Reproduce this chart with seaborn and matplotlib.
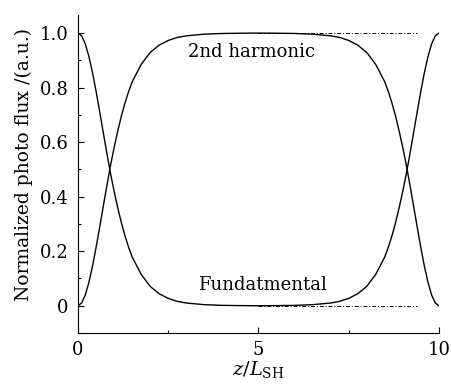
import matplotlib
matplotlib.use("Agg")
import matplotlib.pyplot as plt
import seaborn as sns
import pandas as pd
from matplotlib.ticker import MultipleLocator, FixedLocator

sns.set_style("ticks")
plt.rcParams['font.family'] = ['DejaVu Serif']
plt.rcParams['mathtext.fontset'] = 'dejavuserif'
plt.rcParams['text.color'] = 'black'
plt.rcParams['axes.labelcolor'] = 'black'
plt.rcParams['xtick.color'] = 'black'
plt.rcParams['ytick.color'] = 'black'

# z/L_SH positions
z = [0.0, 0.1, 0.2, 0.3, 0.4, 0.5, 0.6, 0.7, 0.8, 0.9, 1.0, 1.1, 1.2, 1.3, 1.4,
     1.5, 1.75, 2.0, 2.25, 2.5, 2.75, 3.0, 3.5, 4.0, 4.5, 5.0,
     5.5, 6.0, 6.5, 7.0, 7.25, 7.5, 7.75, 8.0, 8.25, 8.5, 8.6, 8.7, 8.8, 8.9,
     9.0, 9.1, 9.2, 9.3, 9.4, 9.5, 9.6, 9.7, 9.8, 9.9, 10.0]
second_harmonic = [0.0, 0.01, 0.039, 0.085, 0.144, 0.213, 0.288, 0.365, 0.441,
                   0.514, 0.58, 0.64, 0.695, 0.743, 0.785, 0.821, 0.885, 0.929,
                   0.956, 0.973, 0.984, 0.99, 0.996, 0.9986, 0.9995, 1.0,
                   0.9995, 0.9986, 0.996, 0.99, 0.984, 0.973, 0.956, 0.929,
                   0.885, 0.821, 0.785, 0.743, 0.695, 0.64, 0.58, 0.514, 0.441,
                   0.365, 0.288, 0.213, 0.144, 0.085, 0.039, 0.01, 0.0]
fundamental = [1.0, 0.99, 0.961, 0.915, 0.856, 0.787, 0.712, 0.635, 0.559,
               0.486, 0.42, 0.36, 0.305, 0.257, 0.215, 0.179, 0.115, 0.071,
               0.044, 0.027, 0.016, 0.01, 0.004, 0.0014, 0.0005, 0.0,
               0.0005, 0.0014, 0.004, 0.01, 0.016, 0.027, 0.044, 0.071,
               0.115, 0.179, 0.215, 0.257, 0.305, 0.36, 0.42, 0.486, 0.559,
               0.635, 0.712, 0.787, 0.856, 0.915, 0.961, 0.99, 1.0]
ref_z = [5.0, 9.4]
ref_top = [1.0, 1.0]
ref_bottom = [0.0, 0.0]

y_ticks = [0, 0.2, 0.4, 0.6, 0.8, 1.0]
y_labels = ["0", "0.2", "0.4", "0.6", "0.8", "1.0"]
x_ticks = [0, 5, 10]
x_labels = ["0", "5", "10"]

df = pd.DataFrame({"z": z, "sh": second_harmonic, "fu": fundamental})
ref = pd.DataFrame({"z": ref_z, "top": ref_top, "bot": ref_bottom})

fig = plt.figure(figsize=(4.52, 3.87), dpi=100)
ax = fig.add_axes([0.1726, 0.1395, 0.7984, 0.8215])

sns.lineplot(data=ref, x="z", y="top", ax=ax, color="black", lw=0.7, linestyle=(0, (4, 2, 1, 2)))
sns.lineplot(data=ref, x="z", y="bot", ax=ax, color="black", lw=0.7, linestyle=(0, (4, 2, 1, 2)))
sns.lineplot(data=df, x="z", y="sh", ax=ax, color="black", lw=1.0)
sns.lineplot(data=df, x="z", y="fu", ax=ax, color="black", lw=1.0)

ax.set_xlim(0, 10)
ax.set_ylim(-0.1, 1.066)
ax.set_yticks(y_ticks)
ax.set_yticklabels(y_labels)
ax.set_xticks(x_ticks)
ax.set_xticklabels(x_labels)
ax.yaxis.set_minor_locator(MultipleLocator(0.1))
ax.xaxis.set_minor_locator(FixedLocator([2.5, 7.5]))
ax.tick_params(which='both', direction='in', width=0.8, labelsize=13, colors='black')
ax.tick_params(which='major', length=4)
ax.tick_params(which='minor', length=2.5)
ax.tick_params(axis='x', pad=6)
ax.tick_params(axis='y', pad=7)

for s in ['top', 'right']:
    ax.spines[s].set_visible(False)
for s in ['left', 'bottom']:
    ax.spines[s].set_linewidth(0.8)
    ax.spines[s].set_color('black')

ax.set_xlabel(r'$z/L_{\mathrm{SH}}$', fontsize=14, labelpad=0, color='black')
ax.set_ylabel('Normalized photo flux /(a.u.)', fontsize=13.5, labelpad=3, color='black')
ax.yaxis.set_label_coords(-0.125, 0.53)

ax.text(4.8, 0.93, '2nd harmonic', fontsize=13, ha='center', va='center', color='black')
ax.text(5.1, 0.077, 'Fundatmental', fontsize=13, ha='center', va='center', color='black')

fig.savefig("out.png", dpi=100)
